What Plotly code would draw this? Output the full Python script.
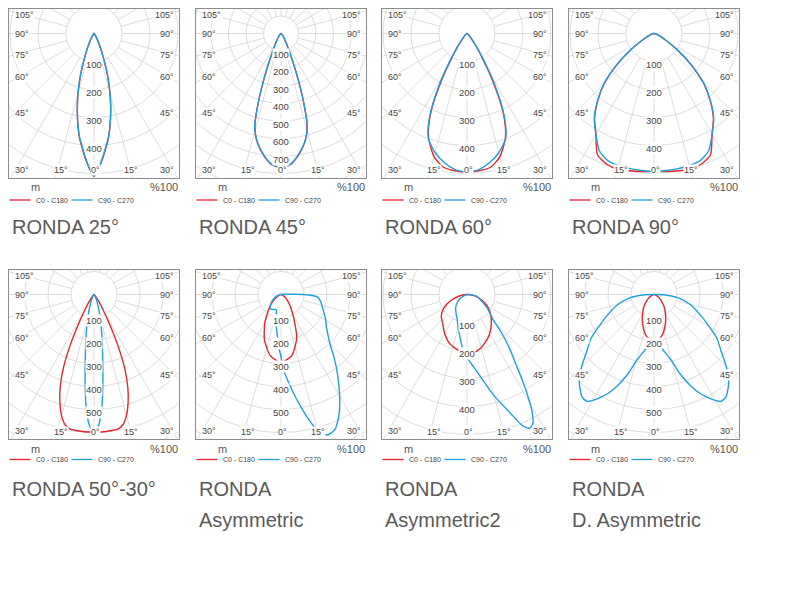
import numpy as np
import plotly.graph_objects as go

# luminous intensity (cd/klm) against angle from nadir, in degrees
# symmetric lamps: one half of the curve, mirrored for the other side
ang_25 = [0, 2, 4, 6, 8, 10, 12, 14, 16, 18, 20, 25, 30, 35, 45, 90]
c0_25 = [510, 482, 447, 410, 375, 332, 287, 242, 197, 155, 112, 50, 20, 8, 0, 0]
c90_25 = [508, 480, 443, 406, 372, 330, 286, 243, 199, 157, 114, 52, 21, 8, 0, 0]

ang_45 = [0, 4, 8, 12, 14, 16, 18, 20, 22, 25, 30, 40, 50, 60, 90]
c0_45 = [766, 752, 705, 642, 600, 540, 425, 305, 205, 112, 52, 15, 5, 0, 0]
c90_45 = [764, 750, 702, 640, 600, 545, 430, 308, 208, 115, 54, 16, 5, 0, 0]

ang_60 = [0, 5, 10, 15, 20, 22.5, 25, 27.5, 30, 35, 40, 50, 60, 90]
c0_60 = [495, 492, 485, 455, 400, 358, 300, 222, 150, 62, 25, 8, 0, 0]
c90_60 = [495, 488, 468, 440, 402, 362, 305, 235, 165, 68, 27, 8, 0, 0]

ang_90 = [0, 5, 10, 15, 20, 25, 30, 35, 40, 45, 50, 55, 60, 70, 80, 90]
c0_90 = [493, 495, 498, 502, 496, 478, 415, 370, 312, 250, 172, 100, 50, 15, 5, 0]
c90_90 = [493, 491, 490, 488, 483, 462, 415, 372, 314, 252, 174, 102, 50, 15, 5, 0]

ang_5030 = [0, 2, 4, 6, 8, 10, 12.5, 15, 17.5, 20, 22.5, 25, 27.5, 30, 35, 40, 50, 60, 90]
c0_5030 = [597, 598, 598, 597, 596, 594, 580, 545, 493, 430, 350, 250, 152, 90, 35, 12, 3, 0, 0]
c90_5030 = [597, 570, 490, 370, 270, 205, 145, 100, 72, 50, 36, 25, 17, 10, 4, 0, 0, 0, 0]

ang_dasym_c0 = [0, 5, 10, 15, 20, 25, 30, 40, 50, 60, 70, 90]
c0_dasym = [199, 195, 185, 165, 142, 120, 100, 68, 40, 22, 10, 0]
ang_dasym_c90 = [0, 5, 10, 15, 18, 22, 25, 28, 32, 35, 40, 45, 50, 55, 65, 75, 82, 85, 88, 90]
c90_dasym = [203, 215, 250, 300, 360, 430, 475, 510, 548, 545, 505, 445, 380, 335, 230, 160, 107, 75, 40, 0]

# asymmetric lamps: signed angle, negative = left half
ang_asym_c0 = [-90, -60, -45, -30, -20, -10, 0, 10, 20, 30, 45, 60, 90]
c0_asym = [0, 20, 65, 140, 210, 270, 296, 270, 200, 105, 45, 15, 0]
ang_asym_c90 = [-90, -70, -55, -48, -40, -35, -25, -17, -12, -8, -5, -2, 0, 2, 5, 8, 10, 12, 14,
                16, 18, 20, 22, 24, 26, 30, 35, 40, 45, 50, 55, 60, 70, 80, 86, 89, 91, 93]
c90_asym = [0, 20, 45, 58, 75, 78, 72, 70, 110, 145, 180, 235, 270, 330, 385, 450, 495, 545, 590,
            625, 642, 640, 630, 605, 577, 510, 430, 360, 300, 265, 240, 225, 195, 175, 160, 120, 60, 0]

ang_asym2_c0 = [-90, -80, -70, -60, -50, -40, -30, -20, -10, 0, 10, 20, 30, 40, 50, 60, 70, 80, 90]
c0_asym2 = [0, 25, 60, 95, 120, 135, 160, 185, 200, 211, 205, 185, 162, 135, 110, 85, 55, 28, 0]
ang_asym2_c90 = [-90, -60, -45, -38, -30, -20, -15, -10, -5, 0, 5, 10, 15, 20, 23, 25, 27, 29,
                 31, 33, 35, 38, 42, 46, 55, 63, 80, 90]
c90_asym2 = [0, 30, 55, 66, 78, 100, 123, 150, 190, 225, 258, 305, 375, 450, 510, 527, 518, 480,
             420, 360, 305, 250, 185, 130, 90, 64, 34, 0]

ring_labels_4 = [100, 200, 300, 400]
ring_labels_5 = [100, 200, 300, 400, 500]
ring_labels_7 = [100, 200, 300, 400, 500, 600, 700]

side_labels = ["105°", "90°", "75°", "60°", "45°", "30°"]
bottom_labels = ["15°", "0°", "15°"]

RED = "#e8232c"
BLUE = "#1ea0d8"
GRID = "#d3d3d3"
FRAME = "#8c8c8c"
TXT = "#444444"
FONT = "Liberation Sans, Arial, sans-serif"

W, H = 795, 600
OX, OY = 7.5, 6.5  # the page puts the plot this far from the window corner
BOX_W, BOX_H = 170, 169
CX, CY = 85.5, 25  # pole of the diagram inside its box, px
col_left = [8, 195, 381, 568]
row_top = [7, 268]


def px(x):
    return (x - OX) / W


def py(y):
    return 1 - (y - OY) / H


def sym(ang, val):
    a = np.array(ang, float)
    v = np.array(val, float)
    return np.concatenate([-a[::-1], a[1:]]), np.concatenate([v[::-1], v[1:]])


def to_xy(ang, val):
    t = np.radians(np.array(ang, float))
    v = np.array(val, float)
    return v * np.sin(t), -v * np.cos(t)


def note(text, x, y, xref="paper", yref="paper", xanchor="center", size=9, color=TXT, bg=None):
    d = dict(text=text, x=x, y=y, xref=xref, yref=yref, xanchor=xanchor, yanchor="middle",
             showarrow=False, font=dict(size=size, color=color, family=FONT))
    if bg:
        d.update(bgcolor=bg, borderpad=0)
    return d


panels = [
    dict(title=["RONDA 25°"], s=0.28, rings=ring_labels_4, red=sym(ang_25, c0_25), blue=sym(ang_25, c90_25)),
    dict(title=["RONDA 45°"], s=0.175, rings=ring_labels_7, red=sym(ang_45, c0_45), blue=sym(ang_45, c90_45)),
    dict(title=["RONDA 60°"], s=0.28, rings=ring_labels_4, red=sym(ang_60, c0_60), blue=sym(ang_60, c90_60)),
    dict(title=["RONDA 90°"], s=0.28, rings=ring_labels_4, red=sym(ang_90, c0_90), blue=sym(ang_90, c90_90)),
    dict(title=["RONDA 50°-30°"], s=0.23, rings=ring_labels_5, red=sym(ang_5030, c0_5030), blue=sym(ang_5030, c90_5030)),
    dict(title=["RONDA", "Asymmetric"], s=0.23, rings=ring_labels_5,
         red=(ang_asym_c0, c0_asym), blue=(ang_asym_c90, c90_asym)),
    dict(title=["RONDA", "Asymmetric2"], s=0.28, rings=ring_labels_4,
         red=(ang_asym2_c0, c0_asym2), blue=(ang_asym2_c90, c90_asym2)),
    dict(title=["RONDA", "D. Asymmetric"], s=0.23, rings=ring_labels_5,
         red=sym(ang_dasym_c0, c0_dasym), blue=sym(ang_dasym_c90, c90_dasym)),
]

fig = go.Figure()
annotations = []
shapes = []
layout = {}

for i, p in enumerate(panels):
    n = i + 1
    sfx = "" if n == 1 else str(n)
    x0 = col_left[i % 4]
    y0 = row_top[i // 4]
    s = p["s"]

    # polar grid: rings every 100 and rays every 15 deg, starting at the first ring
    rmax = np.hypot(max(CX, BOX_W - CX), BOX_H - CY) / s * 1.05
    gx, gy = [], []
    th = np.radians(np.linspace(0, 360, 241))
    for r in range(100, int(rmax) + 100, 100):
        gx += list(r * np.sin(th)) + [None]
        gy += list(-r * np.cos(th)) + [None]
    for a in range(0, 360, 15):
        t = np.radians(a)
        gx += [100 * np.sin(t), rmax * np.sin(t), None]
        gy += [-100 * np.cos(t), -rmax * np.cos(t), None]
    fig.add_trace(go.Scatter(x=gx, y=gy, mode="lines", line=dict(color=GRID, width=0.8),
                             xaxis="x" + sfx, yaxis="y" + sfx, hoverinfo="skip", showlegend=False))

    for key, col in (("red", RED), ("blue", BLUE)):
        cx, cy = to_xy(*p[key])
        fig.add_trace(go.Scatter(x=cx, y=cy, mode="lines",
                                 line=dict(color=col, width=1.4, shape="spline", smoothing=0.6),
                                 xaxis="x" + sfx, yaxis="y" + sfx, hoverinfo="skip", showlegend=False))

    ax = dict(showline=True, mirror=True, linecolor=FRAME, linewidth=1, showgrid=False,
              zeroline=False, showticklabels=False, ticks="", fixedrange=True)
    layout["xaxis" + sfx] = dict(ax, domain=[px(x0), px(x0 + BOX_W)],
                                 range=[-CX / s, (BOX_W - CX) / s], anchor="y" + sfx)
    layout["yaxis" + sfx] = dict(ax, domain=[py(y0 + BOX_H), py(y0)],
                                 range=[-(BOX_H - CY) / s, CY / s], anchor="x" + sfx)

    # intensity values down the 0 deg axis
    for v in p["rings"]:
        annotations.append(note(str(v), 0, -(v + 3 / s), "x" + sfx, "y" + sfx, size=9.5, bg="white"))

    # angle labels along the frame
    dx, dy = f"x{sfx} domain", f"y{sfx} domain"
    side_y = [6, 25, 46.5, 68.5, 105, 161.5]
    for lab, yy in zip(side_labels, side_y):
        for xx, anc in ((5, "left"), (166, "right")):
            annotations.append(note(lab, xx / BOX_W, 1 - yy / BOX_H, dx, dy, xanchor=anc, bg="white"))
    for lab, xx in zip(bottom_labels, [52, 87, 122]):
        annotations.append(note(lab, xx / BOX_W, 1 - 162 / BOX_H, dx, dy, bg="white"))

    # units and legend under the frame
    yb = y0 + BOX_H
    dy_units, dy_leg = (9.5, 22.5) if i < 4 else (10.5, 21)
    annotations.append(note("m", px(x0 + 27), py(yb + dy_units), size=11, color="#555"))
    annotations.append(note("%100", px(x0 + BOX_W + 1), py(yb + dy_units), xanchor="right",
                            size=11, color="#555"))
    yl = py(yb + dy_leg)
    for lx0, lx1, col, lab in ((1, 22, RED, "C0 - C180"), (63, 84, BLUE, "C90 - C270")):
        shapes.append(dict(type="line", xref="paper", yref="paper", x0=px(x0 + lx0), x1=px(x0 + lx1),
                           y0=yl, y1=yl, line=dict(color=col, width=1.3)))
        annotations.append(note(lab, px(x0 + lx1 + 3), yl, xanchor="left", size=7))

    # panel title
    ty = 225 if i < 4 else 487
    for k, line in enumerate(p["title"]):
        annotations.append(note(line, px(x0 + 1), py(ty + 31 * k), xanchor="left",
                                size=20, color="#5a5a5a"))

fig.update_layout(width=W, height=H, margin=dict(l=0, r=0, t=0, b=0),
                  paper_bgcolor="white", plot_bgcolor="white", showlegend=False,
                  annotations=annotations, shapes=shapes, **layout)

fig.write_html("out.html")
